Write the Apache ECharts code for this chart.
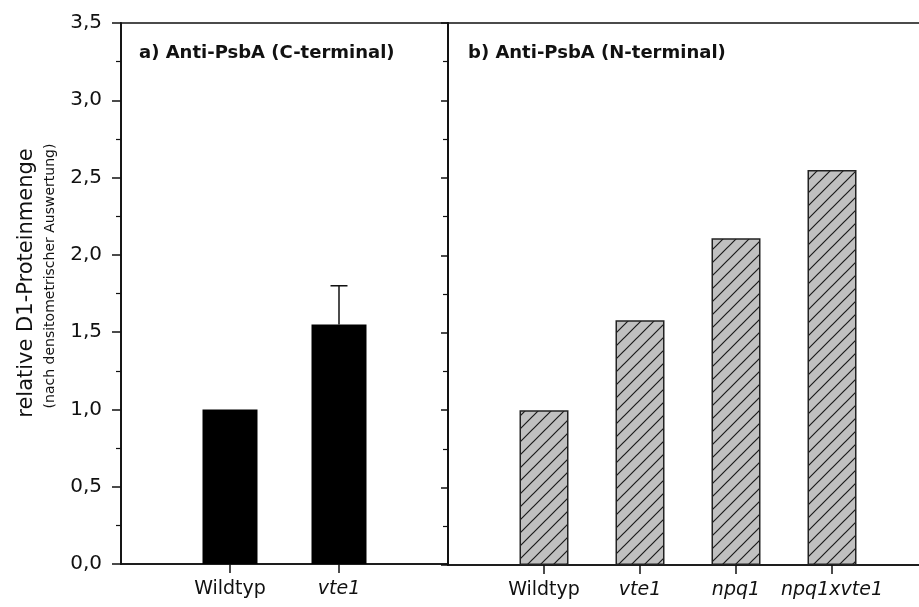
<!DOCTYPE html>
<html>
<head>
<meta charset="utf-8">
<script src="https://cdn.jsdelivr.net/npm/echarts@6/dist/echarts.min.js"></script>
<style>
html,body{margin:0;padding:0;background:#fff;}
#chart{width:919px;height:607px;}
</style>
</head>
<body>
<div id="chart"></div>
<script>
// ---- data ----
var categoriesA = ['Wildtyp', 'vte1'];
var valuesA = [1.0, 1.55];
var errorsA = [null, 0.25];
var categoriesB = ['Wildtyp', 'vte1', 'npq1', 'npq1xvte1'];
var valuesB = [1.0, 1.58, 2.11, 2.55];
var titleA = 'a) Anti-PsbA (C-terminal)';
var titleB = 'b) Anti-PsbA (N-terminal)';
var yTitle = 'relative D1-Proteinmenge';
var ySubTitle = '(nach densitometrischer Auswertung)';
var yMin = 0, yMax = 3.5, yStep = 0.5;

var FONT = 'DejaVu Sans';

// hatch pattern
function hatch() {
  var s = 13;
  var c = document.createElement('canvas');
  c.width = s; c.height = s;
  var g = c.getContext('2d');
  g.fillStyle = '#c0c0c0';
  g.fillRect(0, 0, s, s);
  g.strokeStyle = '#1a1a1a';
  g.lineWidth = 1.2;
  g.beginPath();
  g.moveTo(0, s); g.lineTo(s, 0);
  g.moveTo(-2, 2); g.lineTo(2, -2);
  g.moveTo(s - 2, s + 2); g.lineTo(s + 2, s - 2);
  g.stroke();
  return c;
}

function pad(arr) { return [''].concat(arr).concat(['']); }
function padVals(arr) { return ['-'].concat(arr).concat(['-']); }
function labelFmt(v) {
  if (v === '') return '';
  return v === 'Wildtyp' ? v : '{i|' + v + '}';
}
function tickFn(n) { return function (i) { return i > 0 && i < n - 1; }; }

var catA = pad(categoriesA), catB = pad(categoriesB);

function xAxis(gi, cats) {
  return {
    type: 'category', gridIndex: gi, data: cats, boundaryGap: false,
    axisLine: { lineStyle: { color: '#111', width: 1.5 } },
    axisTick: { show: true, interval: tickFn(cats.length), length: 9, lineStyle: { color: '#111', width: 1.5 } },
    axisLabel: {
      interval: 0, margin: 16, formatter: labelFmt,
      color: '#111', fontFamily: FONT, fontSize: 19,
      rich: { i: { fontStyle: 'italic', fontFamily: FONT, fontSize: 19, color: '#111' } }
    },
    splitLine: { show: false }
  };
}
function yAxis(gi, showLabels, tickLen) {
  return {
    type: 'value', gridIndex: gi, min: yMin, max: yMax, interval: yStep,
    axisLine: { show: true, lineStyle: { color: '#111', width: 1.8 } },
    axisTick: { show: true, length: tickLen, lineStyle: { color: '#111', width: 1.5 } },
    minorTick: { show: true, splitNumber: 2, length: 5, lineStyle: { color: '#111', width: 1.2 } },
    axisLabel: {
      show: showLabels, margin: 19, color: '#111', fontFamily: FONT, fontSize: 20,
      formatter: function (v) { return v.toFixed(1).replace('.', ','); }
    },
    splitLine: { show: false }
  };
}

var errData = [];
for (var i = 0; i < categoriesA.length; i++) {
  if (errorsA[i] != null) errData.push([i + 1, valuesA[i], errorsA[i]]);
}

var chart = echarts.init(document.getElementById('chart'), null, { renderer: 'canvas' });
chart.setOption({
  animation: false,
  backgroundColor: '#fff',
  title: [
    { text: titleA, left: 134, top: 39, textStyle: { fontFamily: FONT, fontSize: 18, fontWeight: 'bold', color: '#111' } },
    { text: titleB, left: 463, top: 39, textStyle: { fontFamily: FONT, fontSize: 18, fontWeight: 'bold', color: '#111' } }
  ],
  grid: [
    { left: 121, top: 23, width: 327, bottom: 43, show: true, borderColor: '#111', borderWidth: 1.5, backgroundColor: 'transparent', outerBoundsMode: 'none', containLabel: false },
    { left: 448, top: 23, width: 480, bottom: 42, show: true, borderColor: '#111', borderWidth: 1.5, backgroundColor: 'transparent', outerBoundsMode: 'none', containLabel: false }
  ],
  xAxis: [xAxis(0, catA), xAxis(1, catB)],
  yAxis: [yAxis(0, true, 9), yAxis(1, false, 7)],
  graphic: [
    { type: 'text', x: 27, y: 283, rotation: Math.PI / 2,
      style: { text: yTitle, fontFamily: FONT, fontSize: 21, fill: '#111', align: 'center', verticalAlign: 'middle' } },
    { type: 'text', x: 50, y: 276, rotation: Math.PI / 2,
      style: { text: ySubTitle, fontFamily: FONT, fontSize: 14, fill: '#111', align: 'center', verticalAlign: 'middle' } }
  ],
  series: [
    { type: 'bar', xAxisIndex: 0, yAxisIndex: 0, data: padVals(valuesA), barWidth: 55,
      itemStyle: { color: '#000' } },
    { type: 'bar', xAxisIndex: 1, yAxisIndex: 1, data: padVals(valuesB), barWidth: 49,
      itemStyle: { color: { image: hatch(), repeat: 'repeat' }, borderColor: '#222', borderWidth: 1.5 } },
    { type: 'custom', xAxisIndex: 0, yAxisIndex: 0, data: errData, z: 5,
      encode: { x: 0, y: 1 },
      renderItem: function (params, api) {
        var x = api.value(0), v = api.value(1), e = api.value(2);
        var base = api.coord([x, v]);
        var top = api.coord([x, v + e]);
        var hw = 8.5;
        return {
          type: 'group',
          children: [
            { type: 'line', shape: { x1: base[0], y1: base[1], x2: top[0], y2: top[1] }, style: { stroke: '#111', lineWidth: 1.5 } },
            { type: 'line', shape: { x1: top[0] - hw, y1: top[1], x2: top[0] + hw, y2: top[1] }, style: { stroke: '#111', lineWidth: 1.5 } }
          ]
        };
      }
    }
  ]
});
</script>
</body>
</html>
